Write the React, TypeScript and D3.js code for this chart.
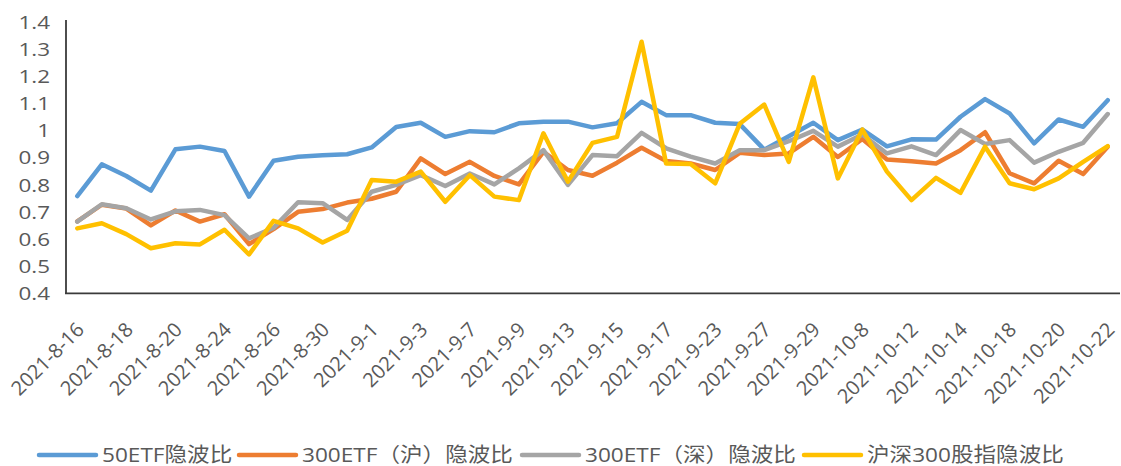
import React from "react";
import * as d3 from "d3";

const dates: string[] = [
  "2021-8-16","2021-8-17","2021-8-18","2021-8-19","2021-8-20",
  "2021-8-23","2021-8-24","2021-8-25","2021-8-26","2021-8-27",
  "2021-8-30","2021-8-31","2021-9-1","2021-9-2","2021-9-3",
  "2021-9-6","2021-9-7","2021-9-8","2021-9-9","2021-9-10",
  "2021-9-13","2021-9-14","2021-9-15","2021-9-16","2021-9-17",
  "2021-9-22","2021-9-23","2021-9-24","2021-9-27","2021-9-28",
  "2021-9-29","2021-9-30","2021-10-8","2021-10-11","2021-10-12",
  "2021-10-13","2021-10-14","2021-10-15","2021-10-18","2021-10-19",
  "2021-10-20","2021-10-21","2021-10-22",
];

const etf50: number[] = [
  0.758,0.875,0.832,0.778,0.930,0.940,0.924,0.756,0.888,0.903,
  0.908,0.912,0.937,1.012,1.028,0.976,0.997,0.993,1.026,1.032,
  1.032,1.011,1.026,1.105,1.056,1.056,1.028,1.023,0.929,0.978,
  1.028,0.964,1.003,0.941,0.967,0.966,1.050,1.115,1.062,0.952,
  1.040,1.013,1.111,
];
const etf300sh: number[] = [
  0.665,0.726,0.712,0.650,0.705,0.664,0.691,0.581,0.636,0.700,
  0.710,0.734,0.748,0.774,0.897,0.839,0.884,0.832,0.801,0.921,
  0.854,0.833,0.881,0.936,0.887,0.878,0.854,0.917,0.909,0.915,
  0.976,0.902,0.968,0.893,0.886,0.878,0.927,0.993,0.842,0.805,
  0.888,0.839,0.940,
];
const etf300sz: number[] = [
  0.664,0.728,0.713,0.672,0.702,0.707,0.688,0.602,0.641,0.735,
  0.732,0.670,0.774,0.799,0.835,0.795,0.841,0.801,0.860,0.927,
  0.799,0.909,0.905,0.991,0.934,0.903,0.878,0.927,0.927,0.960,
  0.998,0.940,0.985,0.915,0.941,0.909,1.001,0.950,0.964,0.881,
  0.921,0.954,1.060,
];
const idx300: number[] = [
  0.639,0.658,0.618,0.566,0.584,0.580,0.634,0.543,0.667,0.639,
  0.587,0.630,0.817,0.811,0.848,0.737,0.835,0.756,0.743,0.989,
  0.811,0.954,0.976,1.326,0.878,0.876,0.805,1.024,1.095,0.884,
  1.195,0.823,1.003,0.848,0.743,0.825,0.770,0.940,0.805,0.783,
  0.823,0.884,0.942,
];

const seriesNames: string[] = [
  "50ETF隐波比",
  "300ETF（沪）隐波比",
  "300ETF（深）隐波比",
  "沪深300股指隐波比",
];
const seriesColors: string[] = ["#5B9BD5", "#ED7D31", "#A5A5A5", "#FFC000"];
const yTicks: number[] = [0.4, 0.5, 0.6, 0.7, 0.8, 0.9, 1, 1.1, 1.2, 1.3, 1.4];

const W = 1121;
const H = 466;
const left = 65;
const right = 1120;
const top = 21.7;
const bottom = 293.3;
const FONT = '"Open Sans", "Noto Sans CJK SC", sans-serif';
const TEXT = "#595959";

export default function App() {
  const allSeries = [etf50, etf300sh, etf300sz, idx300];
  const x = d3.scalePoint<string>().domain(dates).range([left, right]).padding(0.5);
  const y = d3.scaleLinear().domain([0.4, 1.4]).range([bottom, top]);
  const line = d3
    .line<number>()
    .x((_, i) => x(dates[i]) as number)
    .y((d) => y(d));

  const legendSwatchX = [39, 239, 522, 804];
  const legendY = 455;

  return (
    <svg
      width={W}
      height={H}
      style={{ position: "absolute", left: 0, top: 0, background: "#fff" }}
      fontFamily={FONT}
    >
      <rect x={0} y={0} width={W} height={H} fill="#fff" />
      {/* Y tick labels */}
      {yTicks.map((t) => (
        <text
          key={t}
          transform={`translate(50,${y(t)}) scale(1.18,1)`}
          dy="0.36em"
          textAnchor="end"
          fontSize={19}
          fill={TEXT}
        >
          {d3.format("")(t)}
        </text>
      ))}
      {/* X tick labels */}
      {dates.map((d, i) =>
        i % 2 === 0 ? (
          <text
            key={d}
            transform={`translate(${(x(d) as number) + 8},${331}) rotate(-45)`}
            textAnchor="end"
            fontSize={20}
            fill={TEXT}
          >
            {d}
          </text>
        ) : null
      )}
      {/* Lines */}
      {allSeries.map((s, k) => (
        <path
          key={k}
          d={line(s) || ""}
          fill="none"
          stroke={seriesColors[k]}
          strokeWidth={4.5}
          strokeLinejoin="round"
          strokeLinecap="round"
        />
      ))}
      {/* Axes */}
      <line x1={left + 1} x2={left + 1} y1={20} y2={bottom} stroke="#3a3a3a" strokeWidth={1.8} />
      <line x1={left} x2={right} y1={bottom} y2={bottom} stroke="#3a3a3a" strokeWidth={1.8} />
      {/* Legend */}
      {seriesNames.map((n, k) => (
        <g key={n}>
          <line
            x1={legendSwatchX[k]}
            x2={legendSwatchX[k] + 57}
            y1={legendY}
            y2={legendY}
            stroke={seriesColors[k]}
            strokeWidth={4.5}
            strokeLinecap="round"
          />
          <text
            transform={`translate(${legendSwatchX[k] + 63},${legendY}) scale(1.13,1)`}
            dy="0.36em"
            fontSize={20}
            fill={TEXT}
          >
            {n}
          </text>
        </g>
      ))}
    </svg>
  );
}
